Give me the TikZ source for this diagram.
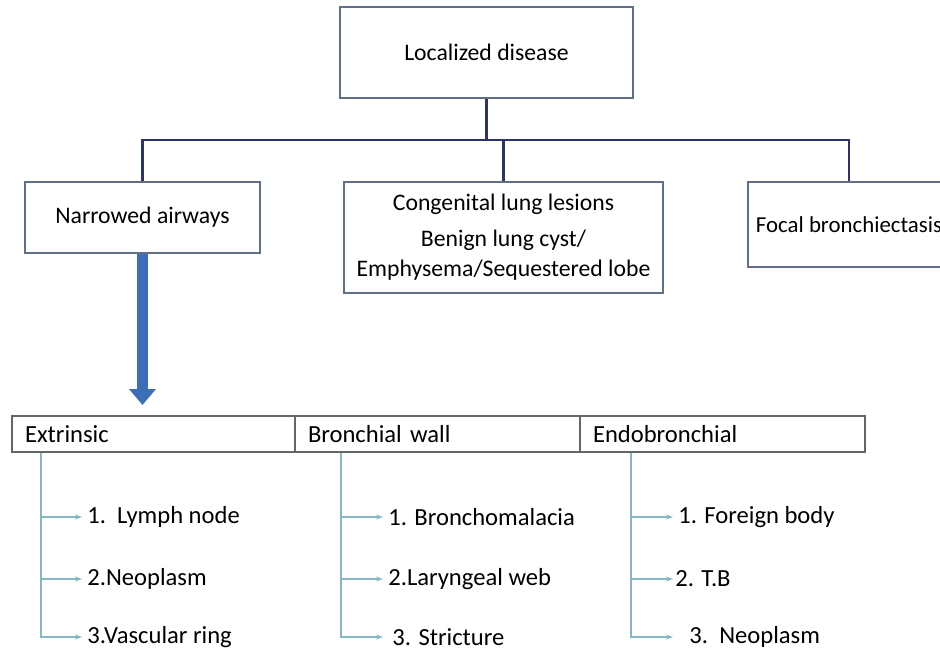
\documentclass[tikz,border=0pt]{standalone}
\usepackage{fontspec}
\setmainfont{Carlito}
\usetikzlibrary{arrows.meta}
\definecolor{boxline}{rgb}{0.380000,0.440000,0.530000}
\definecolor{busline}{rgb}{0.180000,0.200000,0.400000}
\definecolor{bigarrow}{rgb}{0.240000,0.430000,0.720000}
\definecolor{tableline}{rgb}{0.400000,0.400000,0.400000}
\definecolor{itemcol}{rgb}{0.520000,0.720000,0.770000}
\tikzset{
  topbox/.style={draw=boxline, line width=0.04cm, fill=white, align=center, inner sep=0pt,
    font=\fontsize{13.5}{17}\selectfont},
  cellbox/.style={draw=tableline, line width=0.03cm, align=left, inner xsep=0.26cm, inner ysep=0pt,
    minimum height=0.72cm, font=\fontsize{14}{17}\selectfont},
  itemtext/.style={anchor=west, inner xsep=0.1cm, font=\fontsize{14}{17}\selectfont},
  busdraw/.style={draw=busline, line width=0.05cm},
  itemdraw/.style={draw=itemcol, line width=0.04cm, -{Stealth[length=0.14cm,width=0.10cm]}},
}
\begin{document}
\begin{tikzpicture}
\useasboundingbox (0.000000,0.000000) rectangle (18.800000,-13.080000);
\clip (0.000000,0.000000) rectangle (18.800000,-13.080000);

% Upper boxes
\node [topbox, minimum width=5.86cm, minimum height=1.82cm] (local) at (9.730000,-1.050000) {Localized disease};
\node [topbox, minimum width=4.70cm, minimum height=1.42cm] (narrow) at (2.850000,-4.350000) {Narrowed airways};
\node [topbox, minimum width=6.38cm, minimum height=2.22cm] (congen) at (10.070000,-4.750000)
  {Congenital lung lesions\\[0.12cm] Benign lung cyst/\\ Emphysema/Sequestered lobe};
\node [topbox, minimum width=4.04cm, minimum height=1.70cm, font=\fontsize{13}{16}\selectfont] (focal) at (16.980000,-4.490000) {Focal bronchiectasis};

% Drawing bus from Localized disease
\coordinate (bus) at (9.730000,-2.800000);
\draw [busdraw] (local.south) -- (bus);
\draw [busdraw] (narrow.north) |- (bus) -| (focal.north);
\draw [busdraw] (congen.north) -- (congen.north |- bus);

% Table of narrowed airways
\node [cellbox, text width=5.14cm] (extr) at (3.070000,-8.680000) {Extrinsic};
\node [cellbox, text width=5.18cm] (wall) at (8.750000,-8.680000) {Bronchial wall};
\node [cellbox, text width=5.18cm] (endo) at (14.450000,-8.680000) {Endobronchial};

% Thick blue arrow
\coordinate (arrowtip) at (2.850000,-8.100000);
\draw [bigarrow, line width=0.22cm, -{Triangle[width=0.52cm,length=0.32cm]}] (narrow.south) -- (arrowtip);

% Extrinsic items
\coordinate (extrtrunk) at ([xshift=0.60cm]extr.south west);
\node [itemtext] (ext1) at (1.640000,-10.340000) {1.\ \ Lymph node};
\node [itemtext] (ext2) at (1.640000,-11.580000) {2.Neoplasm};
\node [itemtext] (ext3) at (1.640000,-12.740000) {3.Vascular ring};
\draw [itemdraw] (extrtrunk) |- (ext3.west);
\draw [itemdraw] (extrtrunk |- ext1.west) -- (ext1.west);
\draw [itemdraw] (extrtrunk |- ext2.west) -- (ext2.west);

% Bronchial wall items
\coordinate (walltrunk) at ([xshift=0.94cm]wall.south west);
\node [itemtext] (wall1) at (7.660000,-10.340000) {1. Bronchomalacia};
\node [itemtext] (wall2) at (7.660000,-11.580000) {2.Laryngeal web};
\node [itemtext] (wall3) at (7.660000,-12.740000) {\,3. Stricture};
\draw [itemdraw] (walltrunk) |- (wall3.west);
\draw [itemdraw] (walltrunk |- wall1.west) -- (wall1.west);
\draw [itemdraw] (walltrunk |- wall2.west) -- (wall2.west);

% Endobronchial items
\coordinate (endotrunk) at ([xshift=1.04cm]endo.south west);
\node [itemtext] (endo1) at (13.460000,-10.340000) {1. Foreign body};
\node [itemtext, inner xsep=0.04cm] (endo2) at (13.460000,-11.580000) {2. T.B};
\node [itemtext] (endo3) at (13.460000,-12.740000) {\ \ 3.\ \ Neoplasm};
\draw [itemdraw] (endotrunk) |- (endo3.west);
\draw [itemdraw] (endotrunk |- endo1.west) -- (endo1.west);
\draw [itemdraw] (endotrunk |- endo2.west) -- (endo2.west);
\end{tikzpicture}
\end{document}
